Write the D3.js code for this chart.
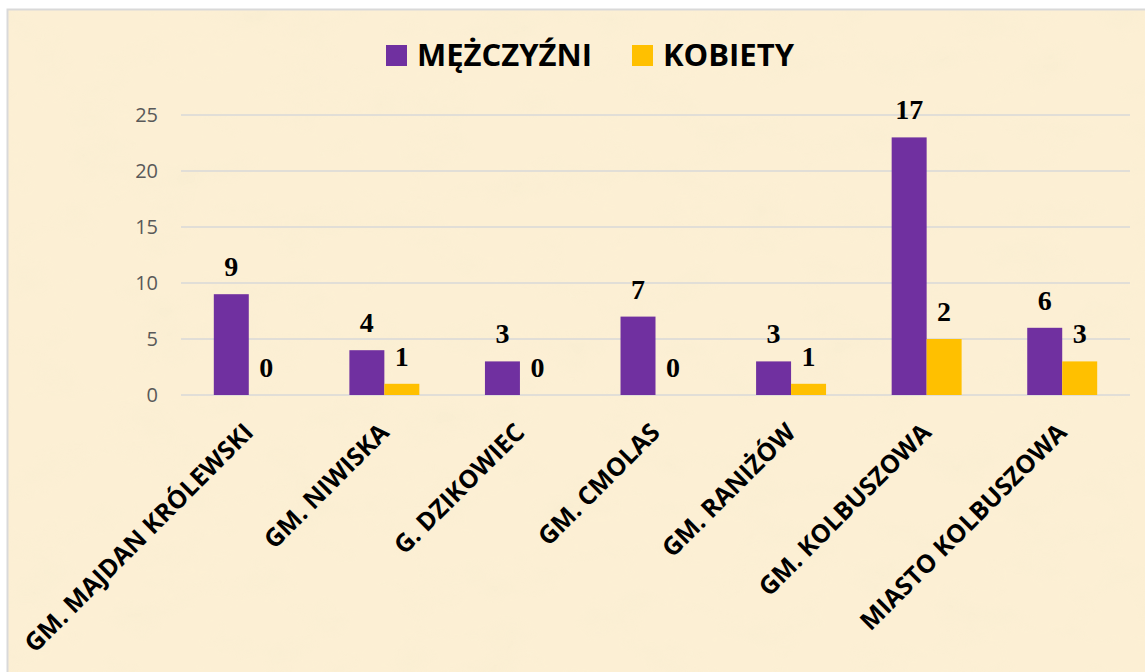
<!DOCTYPE html>
<html>
<head>
<meta charset="utf-8">
<script src="https://cdn.jsdelivr.net/npm/d3@7"></script>
<style>
  html, body { margin: 0; padding: 0; background: #fff; }
  svg { display: block; }
</style>
</head>
<body>
<div class="chart"></div>
<script>
const width = 1145;
const height = 672;

// data
const categories = ["GM. MAJDAN KRÓLEWSKI", "GM. NIWISKA", "G. DZIKOWIEC", "GM. CMOLAS", "GM. RANIŻÓW", "GM. KOLBUSZOWA", "MIASTO KOLBUSZOWA"];
const seriesNames = ["MĘŻCZYŹNI", "KOBIETY"];
const menValues = [9, 4, 3, 7, 3, 23, 6];
const womenValues = [0, 1, 0, 0, 1, 5, 3];
// data labels as printed on the chart (they differ from bar heights in places)
const menLabels = ["9", "4", "3", "7", "3", "17", "6"];
const womenLabels = ["0", "1", "0", "0", "1", "2", "3"];
const yTicks = [0, 5, 10, 15, 20, 25];

const colors = ["#7030a0", "#ffc000"];

const margin = { top: 115, right: 15, bottom: 277, left: 181 };

let svg = d3
  .select(".chart")
  .append("svg")
  .attr("width", width)
  .attr("height", height);

// parchment background
let defs = svg.append("defs");
let filter = defs.append("filter").attr("id", "paper").attr("x", 0).attr("y", 0).attr("width", "100%").attr("height", "100%");
filter.append("feTurbulence").attr("type", "fractalNoise").attr("baseFrequency", "0.015 0.025").attr("numOctaves", 4).attr("seed", 7).attr("result", "noise");
filter.append("feColorMatrix").attr("in", "noise").attr("type", "matrix")
  .attr("values", "0 0 0 0 0.94  0 0 0 0 0.85  0 0 0 0 0.64  0 0 0 -2 1.1");

svg.append("rect")
  .attr("x", 7.5).attr("y", 9.5)
  .attr("width", width).attr("height", height)
  .attr("fill", "#fcefd4")
  .attr("stroke", "#d9d9d9")
  .attr("stroke-width", 2);
svg.append("rect")
  .attr("x", 9).attr("y", 11)
  .attr("width", width).attr("height", height)
  .attr("filter", "url(#paper)")
  .attr("opacity", 0.6);

let rows = categories.map((c, i) => ({
  cat: c,
  vals: [menValues[i], womenValues[i]],
  labels: [menLabels[i], womenLabels[i]],
}));

let xScale = d3
  .scaleBand()
  .domain(categories)
  .range([margin.left, width - margin.right])
  .paddingInner(0.484)
  .paddingOuter(0.242);

let xSub = d3.scaleBand().domain([0, 1]).range([0, xScale.bandwidth()]);

let yScale = d3
  .scaleLinear()
  .domain([0, 25])
  .range([height - margin.bottom, margin.top]);

// gridlines
svg.append("g")
  .selectAll("line")
  .data(yTicks)
  .enter()
  .append("line")
  .attr("x1", margin.left)
  .attr("x2", width - margin.right)
  .attr("y1", (d) => yScale(d))
  .attr("y2", (d) => yScale(d))
  .attr("stroke", "#d9d9d9")
  .attr("stroke-width", 1.5);

// y axis labels
let yAxis = d3.axisLeft(yScale).tickValues(yTicks).tickSize(0).tickPadding(0);
let yg = svg.append("g")
  .attr("transform", "translate(" + (margin.left - 23) + ",0)")
  .call(yAxis);
yg.select(".domain").remove();
yg.selectAll("text")
  .attr("fill", "#595959")
  .attr("font-family", "'Open Sans', sans-serif")
  .attr("font-size", 20);

// bars
let groups = svg.append("g")
  .selectAll("g")
  .data(rows)
  .enter()
  .append("g")
  .attr("transform", (d) => "translate(" + xScale(d.cat) + ",0)");

groups.selectAll("rect")
  .data((d) => d.vals.map((v, k) => ({ v: v, k: k })))
  .enter()
  .append("rect")
  .attr("x", (d) => xSub(d.k))
  .attr("y", (d) => yScale(d.v))
  .attr("width", xSub.bandwidth())
  .attr("height", (d) => yScale(0) - yScale(d.v))
  .attr("fill", (d) => colors[d.k]);

// data labels
groups.selectAll("text")
  .data((d) => d.vals.map((v, k) => ({ v: v, k: k, t: d.labels[k] })))
  .enter()
  .append("text")
  .text((d) => d.t)
  .attr("x", (d) => xSub(d.k) + xSub.bandwidth() / 2)
  .attr("y", (d) => yScale(d.v) - 18)
  .attr("text-anchor", "middle")
  .attr("font-family", "'Liberation Serif', 'Times New Roman', serif")
  .attr("font-weight", "bold")
  .attr("font-size", 28)
  .attr("fill", "#000");

// category labels
svg.append("g")
  .selectAll("text")
  .data(categories)
  .enter()
  .append("text")
  .text((d) => d)
  .attr("transform", (d) => "translate(" + (xScale(d) + xScale.bandwidth() / 2 + 6) + "," + 434 + ") rotate(-45)")
  .attr("text-anchor", "end")
  .attr("font-family", "'Open Sans', sans-serif")
  .attr("font-weight", "bold")
  .attr("font-size", 25)
  .attr("fill", "#000");

// legend
let legendX = [386, 632];
let legend = svg.append("g")
  .selectAll("g")
  .data(seriesNames)
  .enter()
  .append("g")
  .attr("transform", (d, i) => "translate(" + legendX[i] + ",45)");
legend.append("rect")
  .attr("width", 21)
  .attr("height", 21)
  .attr("fill", (d, i) => colors[i]);
legend.append("text")
  .text((d) => d)
  .attr("x", 31)
  .attr("y", 21)
  .attr("font-family", "'Open Sans', sans-serif")
  .attr("font-weight", "bold")
  .attr("font-size", 31)
  .attr("fill", "#000");
</script>
</body>
</html>
